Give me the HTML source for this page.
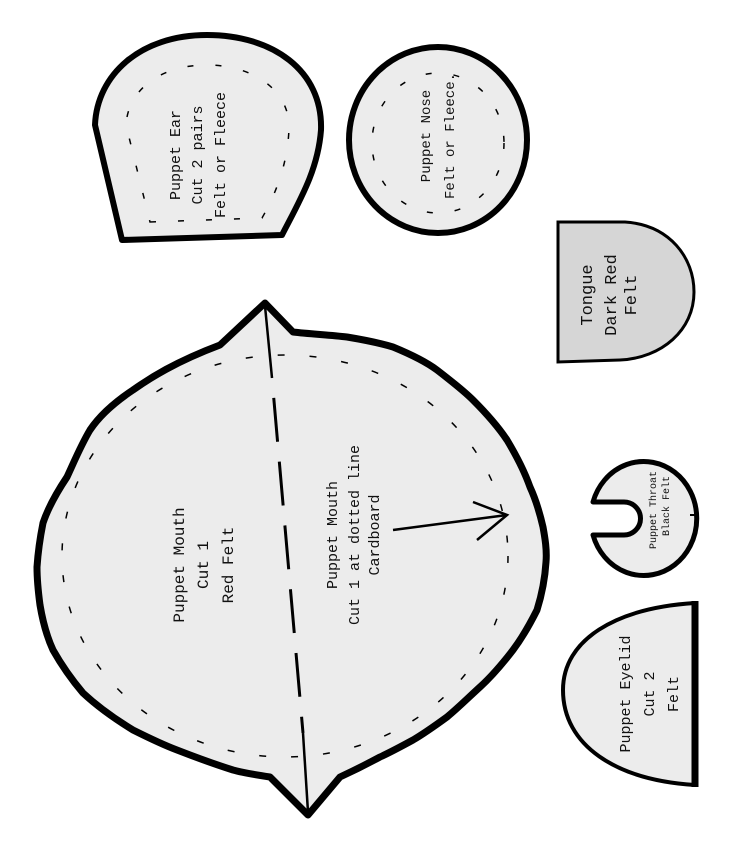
<!DOCTYPE html>
<html><head><meta charset="utf-8"><style>
html,body{margin:0;padding:0;background:#fff;}
svg{display:block;}
text{font-family:"Liberation Mono",monospace;fill:#111;}
</style></head><body>
<svg width="741" height="865" viewBox="0 0 741 865" xmlns="http://www.w3.org/2000/svg">
<!-- Ear -->
<path d="M122,240 L282,235 C300,200 318,170 321,130 C323,70 272,35 207,35 C140,35 97,75 95,125 Z" fill="#ececec" stroke="#000" stroke-width="6" stroke-linejoin="round"/>
<path d="M150,222 L262,218 C278,190 288,160 289,128 C290,92 255,65 207,65 C160,65 128,90 126,125 Z" fill="none" stroke="#000" stroke-width="1.5" stroke-dasharray="6 22"/>
<text transform="translate(198,155) rotate(-90)" text-anchor="middle" font-size="15"><tspan x="0" dy="-18">Puppet Ear</tspan><tspan x="0" dy="22">Cut 2 pairs</tspan><tspan x="0" dy="23">Felt or Fleece</tspan></text>
<!-- Nose -->
<ellipse cx="438" cy="140" rx="89" ry="93" fill="#ececec" stroke="#000" stroke-width="6"/>
<ellipse cx="438" cy="143" rx="66" ry="70" fill="none" stroke="#000" stroke-width="1.5" stroke-dasharray="6 22"/>
<text transform="translate(437,136) rotate(-90)" text-anchor="middle" font-size="14"><tspan x="0" dy="-7">Puppet Nose</tspan><tspan x="0" dy="24">Felt or Fleece.</tspan></text>
<!-- Tongue -->
<path d="M558,222 L625,222 C670,225 694,258 694,292 C694,330 662,358 620,360 L558,362 Z" fill="#d6d6d6" stroke="#000" stroke-width="3"/>
<text transform="translate(610,295) rotate(-90)" text-anchor="middle" font-size="17"><tspan x="0" dy="-18">Tongue</tspan><tspan x="0" dy="24">Dark Red</tspan><tspan x="0" dy="20">Felt</tspan></text>
<!-- Mouth -->
<path d="M265,303 L293,332 C310,334 330,335 347,337 C365,340 380,343 393,347 C410,354 425,361 437,370 C450,380 463,390 473,400 C485,412 497,425 507,440 C516,455 524,470 530,487 C536,500 540,514 543,527 C545,538 547,550 546,562 C545,578 542,594 537,610 C530,624 522,638 513,650 C503,663 492,676 480,687 C469,697 458,708 447,717 C436,725 425,733 413,740 C402,746 391,752 380,757 C367,764 353,771 340,777 L308,815 L270,777 C250,774 240,772 233,770 C214,764 195,757 177,750 C161,744 147,737 133,730 C115,719 98,707 83,693 C72,680 62,666 53,650 C47,637 43,623 40,605 C38,590 37,578 37,567 C38,552 40,538 43,523 C48,508 57,492 67,477 C74,462 81,445 90,430 C100,415 115,402 133,390 C150,378 175,362 220,345 Z" fill="#ececec" stroke="#000" stroke-width="7" stroke-linejoin="round"/>
<ellipse cx="285" cy="556" rx="223" ry="201" fill="none" stroke="#000" stroke-width="1.5" stroke-dasharray="7 25"/>
<line x1="265" y1="306" x2="272" y2="378" stroke="#000" stroke-width="2.5"/>
<line x1="272" y1="378" x2="303" y2="733" stroke="#000" stroke-width="3" stroke-dasharray="44 20" stroke-dashoffset="-20"/>
<line x1="303" y1="733" x2="308" y2="812" stroke="#000" stroke-width="2.5"/>
<line x1="393" y1="530" x2="507" y2="515" stroke="#000" stroke-width="2.5"/>
<polyline points="473,502 507,515 477,540" fill="none" stroke="#000" stroke-width="2.5"/>
<text transform="translate(204,565) rotate(-90)" text-anchor="middle" font-size="16"><tspan x="0" dy="-20">Puppet Mouth</tspan><tspan x="0" dy="24">Cut 1</tspan><tspan x="0" dy="25">Red Felt</tspan></text>
<text transform="translate(355,535) rotate(-90)" text-anchor="middle" font-size="15"><tspan x="0" dy="-18">Puppet Mouth</tspan><tspan x="0" dy="22">Cut 1 at dotted line</tspan><tspan x="0" dy="20">Cardboard</tspan></text>
<!-- Throat -->
<path d="M593,502 A53,57 0 1 1 593,535 L624,535 A16.5,16.5 0 0 0 624,502 Z" fill="#ececec" stroke="#000" stroke-width="5" stroke-linejoin="round"/>
<line x1="690" y1="515" x2="699" y2="515" stroke="#000" stroke-width="2"/>
<text transform="translate(660,510) rotate(-90)" text-anchor="middle" font-size="10"><tspan x="0" dy="-4">Puppet Throat</tspan><tspan x="4" dy="13">Black Felt</tspan></text>
<!-- Eyelid -->
<path d="M695,603 C615,608 563,640 563,690 C563,745 615,780 695,785" fill="#ececec" stroke="#000" stroke-width="4"/>
<line x1="695" y1="601" x2="695" y2="787" stroke="#000" stroke-width="7"/>
<text transform="translate(650,694) rotate(-90)" text-anchor="middle" font-size="15"><tspan x="0" dy="-20">Puppet Eyelid</tspan><tspan x="0" dy="24">Cut 2</tspan><tspan x="0" dy="24">Felt</tspan></text>
</svg>
</body></html>
